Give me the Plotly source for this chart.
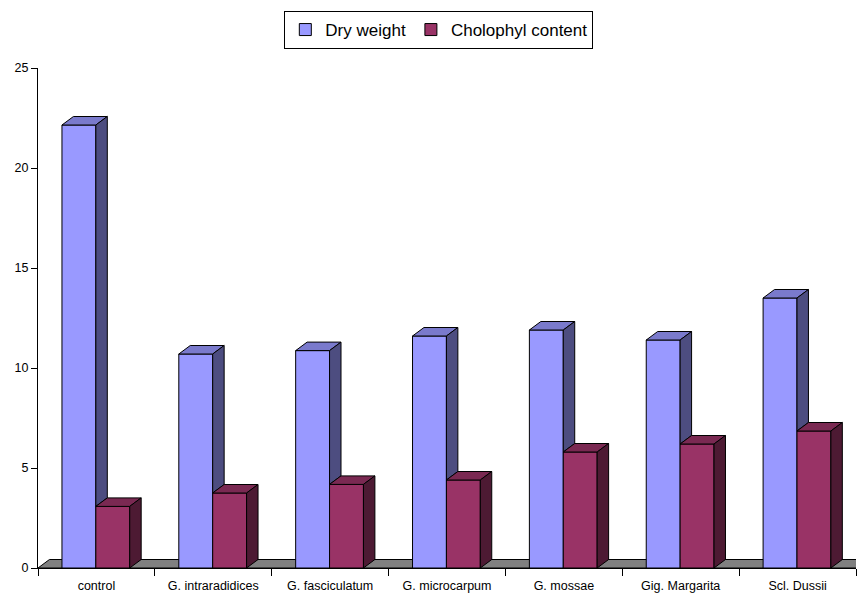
import plotly.graph_objects as go

# Data
categories = ["control", "G. intraradidices", "G. fasciculatum", "G. microcarpum",
              "G. mossae", "Gig. Margarita", "Scl. Dussii"]
dry_weight = [22.15, 10.7, 10.87, 11.6, 11.9, 11.4, 13.5]
chlorophyll = [3.08, 3.75, 4.18, 4.4, 5.8, 6.2, 6.85]

# Styling / geometry of the pseudo-3D bars (category units and y units)
BAR_W = 0.29
DRY_OFF = -0.295
CHL_OFF = DRY_OFF + BAR_W
DX = 0.098   # depth offset along x
DY = 0.425   # depth offset along y

DRY_FRONT, DRY_TOP, DRY_SIDE = "#9999FF", "#7A7ACC", "#4D4D80"
CHL_FRONT, CHL_TOP, CHL_SIDE = "#993366", "#7A2952", "#4D1A33"
FONT = "Liberation Sans, Arial, sans-serif"


def polys(list_of_pts):
    xs, ys = [], []
    for pts in list_of_pts:
        for x, y in pts:
            xs.append(x)
            ys.append(y)
        xs.append(pts[0][0])
        ys.append(pts[0][1])
        xs.append(None)
        ys.append(None)
    return xs, ys


dry_tops, dry_sides, chl_tops, chl_sides = [], [], [], []
for i, (v, c) in enumerate(zip(dry_weight, chlorophyll)):
    xl, xr = i + DRY_OFF, i + DRY_OFF + BAR_W
    cl, cr = i + CHL_OFF, i + CHL_OFF + BAR_W
    dry_tops.append([(xl, v), (xr, v), (xr + DX, v + DY), (xl + DX, v + DY)])
    lo = min(c, v)
    dry_sides.append([(xr, lo), (xr, v), (xr + DX, v + DY), (xr + DX, lo + DY)])
    chl_tops.append([(cl, c), (cr, c), (cr + DX, c + DY), (cl + DX, c + DY)])
    chl_sides.append([(cr, 0), (cr, c), (cr + DX, c + DY), (cr + DX, DY)])

fig = go.Figure()

# Front faces
fig.add_trace(go.Bar(x=categories, y=dry_weight, name="Dry weight", width=BAR_W,
                     offset=DRY_OFF, marker=dict(color=DRY_FRONT,
                                                 line=dict(color="black", width=1))))
fig.add_trace(go.Bar(x=categories, y=chlorophyll, name="Cholophyl content", width=BAR_W,
                     offset=CHL_OFF, marker=dict(color=CHL_FRONT,
                                                 line=dict(color="black", width=1))))

# Top and side faces
for faces, col in [(dry_tops, DRY_TOP), (dry_sides, DRY_SIDE),
                   (chl_tops, CHL_TOP), (chl_sides, CHL_SIDE)]:
    xs, ys = polys(faces)
    fig.add_trace(go.Scatter(x=xs, y=ys, xaxis="x2", yaxis="y", mode="lines",
                             fill="toself", fillcolor=col,
                             line=dict(color="black", width=1),
                             showlegend=False, hoverinfo="skip"))

n = len(categories)
# Floor of the chart
fig.add_shape(type="path", xref="x2", yref="y", layer="below",
              path=(f"M{-0.5},0 L{n - 0.5 + 1},0 L{n - 0.5 + 1 + DX},{DY} "
                    f"L{-0.5 + DX},{DY} Z"),
              fillcolor="#808080", line=dict(color="black", width=1))

fig.update_layout(
    width=857, height=595,
    margin=dict(l=38, r=1, t=68, b=27),
    paper_bgcolor="white", plot_bgcolor="white",
    barmode="overlay",
    font=dict(family=FONT, size=13, color="black"),
    xaxis=dict(type="category", range=[-0.5, n - 0.5], tickson="boundaries",
               ticks="outside", ticklen=7, tickcolor="black",
               showline=True, linecolor="black", linewidth=1,
               showgrid=False, zeroline=False, fixedrange=True,
               ticklabelstandoff=6,
               tickfont=dict(size=12.5)),
    xaxis2=dict(range=[-0.5, n - 0.5], overlaying="x", visible=False,
                fixedrange=True),
    yaxis=dict(range=[0, 25], tickvals=[0, 5, 10, 15, 20, 25],
               ticks="outside", ticklen=6, tickcolor="black",
               showline=True, linecolor="black", linewidth=1,
               showgrid=False, zeroline=False, fixedrange=True,
               tickfont=dict(size=12.5)),
    legend=dict(orientation="h", x=0.49, xanchor="center", y=1.114, yanchor="top",
                bordercolor="black", borderwidth=1, font=dict(size=17),
                itemwidth=30, traceorder="normal", tracegroupgap=0),
    showlegend=True,
)

fig.write_html("out.html")
